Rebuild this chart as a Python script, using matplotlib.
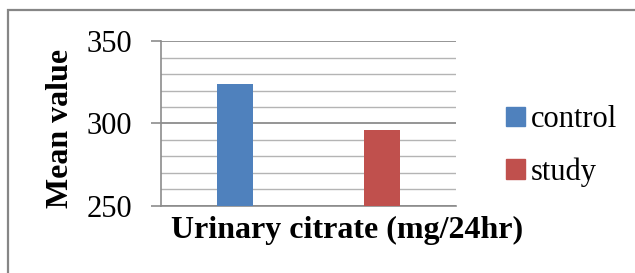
import matplotlib
matplotlib.use("Agg")
import matplotlib.pyplot as plt
from matplotlib.patches import Rectangle, Patch
import numpy as np

series = ["control", "study"]
values = [324, 296]
colors = ["#4F81BD", "#C0504D"]
yticks = [250, 300, 350]
xlabel = "Urinary citrate (mg/24hr)"
ylabel = "Mean value"

W, H = 635, 273
fig = plt.figure(figsize=(W/100, H/100), dpi=100)
plt.rcParams['font.family'] = ['Liberation Serif', 'DejaVu Serif']

# outer border
fig.patches.append(Rectangle((8/W, -0.1), 1.2, (H-10)/H + 0.1, transform=fig.transFigure,
                             fill=False, edgecolor="#868686", linewidth=1.6))

ax = fig.add_axes([161/W, 1-206/H, (456-161)/W, (206-41)/H])
x = np.arange(len(series))
for xi, v, c, s in zip(x, values, colors, series):
    ax.bar(xi, v - 250, bottom=250, width=0.245, color=c, label=s, zorder=3)
ax.set_xlim(-0.5, 1.5)
ax.set_ylim(250, 350)

for yv in range(250, 351, 10):
    if yv in yticks:
        ax.axhline(yv, color="#8c8c8c", lw=1.3, zorder=1)
    else:
        ax.axhline(yv, color="#b4b4b4", lw=1.0, zorder=1)

ax.set_yticks(yticks)
ax.set_yticklabels([str(t) for t in yticks], fontsize=22)
ax.set_xticks([])
ax.tick_params(axis='y', length=7, width=1.2, color="#8c8c8c", pad=14)
for s in ["top", "right"]:
    ax.spines[s].set_visible(False)
ax.spines["left"].set_color("#8c8c8c")
ax.spines["left"].set_linewidth(1.2)
ax.spines["bottom"].set_color("#8c8c8c")
ax.spines["bottom"].set_linewidth(1.2)

fig.text(60/W, 1-128/H, ylabel, rotation=90, ha="center", va="center",
         fontsize=23, fontweight="bold")
fig.text(347/W, 1-230/H, xlabel, ha="center", va="center",
         fontsize=23, fontweight="bold")

handles = [Patch(color=c, label=s) for c, s in zip(colors, series)]
fig.legend(handles=handles, loc="center left", bbox_to_anchor=(494/W, 1-146/H),
           frameon=False, fontsize=22, handlelength=0.6, handleheight=0.6,
           handletextpad=0.2, labelspacing=0.75, borderaxespad=0)

fig.savefig("out.png", dpi=100)
